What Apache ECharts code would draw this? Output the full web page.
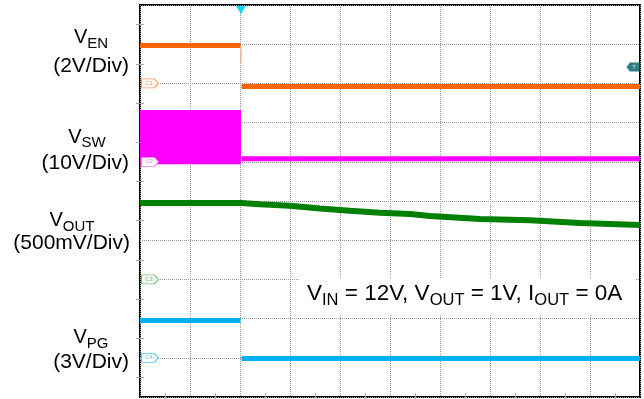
<!DOCTYPE html>
<html>
<head>
<meta charset="utf-8">
<script src="https://cdn.jsdelivr.net/npm/echarts@6/dist/echarts.min.js"></script>
<style>
html,body{margin:0;padding:0;background:#fff;}
#chart{width:644px;height:399px;}
</style>
</head>
<body>
<div id="chart"></div>
<script>
// Oscilloscope: 10 horizontal divisions x 10 vertical divisions (y = 0 bottom, 10 top)
const xDivTicks = [0, 1, 2, 3, 4, 5, 6, 7, 8, 9, 10];
const yDivTicks = [0, 1, 2, 3, 4, 5, 6, 7, 8, 9, 10];

// V_EN (orange)
const venHigh = [[0, 8.97], [2.01, 8.97]];
const venLow = [[2.03, 7.92], [10, 7.92]];
const venEdge = [[2.02, 8.95], [2.02, 8.5]];

// V_SW (magenta): switching band before disable, flat after
const swBandX = [0, 2.02];
const swBandY = [5.94, 7.32];
const swLow = [[2.03, 6.08], [10, 6.08]];

// V_OUT (green): slow discharge
const voutTime = [0, 2.02, 2.4, 3.0, 3.6, 4.2, 4.8, 5.4, 5.8, 6.8, 7.8, 8.8, 10];
const voutLevel = [4.95, 4.95, 4.92, 4.88, 4.81, 4.75, 4.70, 4.67, 4.62, 4.54, 4.51, 4.44, 4.39];

// V_PG (blue)
const vpgHigh = [[0, 1.95], [2.01, 1.95]];
const vpgLow = [[2.03, 0.98], [10, 0.98]];

// Channel ground reference markers
const chanNames = ['C1', 'C2', 'C3', 'C4'];
const chanLevels = [8.0, 6.0, 3.0, 1.0];
const chanColors = ['#ff9a5a', '#ff7aff', '#72b872', '#5fcaf0'];

// Trigger markers
const trigTime = 2.02;
const trigLevel = 8.42;

const font = "'Liberation Sans', Arial, sans-serif";
const breakPt = ['-', '-'];

function seg(a, b) { return a.concat([breakPt], b); }

const voutData = voutTime.map((t, i) => [t, voutLevel[i]]);

const chanPath = 'path://M0,0 L12,0 L16,5 L12,10 L0,10 Z';
function chanMarker(i) {
  return {
    name: chanNames[i],
    coord: [0, chanLevels[i]],
    symbol: chanPath,
    symbolSize: [17, 9],
    symbolKeepAspect: false,
    symbolOffset: [10, 0],
    itemStyle: { color: '#ffffff', borderColor: chanColors[i], borderWidth: 1 },
    label: { show: true, formatter: chanNames[i], color: chanColors[i], fontSize: 6, fontFamily: font, offset: [-1, 0] }
  };
}

const chart = echarts.init(document.getElementById('chart'), null, { renderer: 'canvas' });

const gridLine = { show: true, lineStyle: { color: '#9a9a9a', type: 'dotted', width: 1, opacity: 1 } };
const tickCfg = { show: true, inside: true, length: 0 };
const minorCfg = { show: true, splitNumber: 2, length: 4, lineStyle: { color: '#a8a8a8', width: 1 } };

function xAx(pos) {
  return {
    type: 'value', position: pos, min: xDivTicks[0], max: xDivTicks[xDivTicks.length - 1], interval: 1,
    axisLine: { show: false }, axisLabel: { show: false },
    axisTick: tickCfg, minorTick: minorCfg,
    splitLine: gridLine
  };
}
function yAx(pos) {
  return {
    type: 'value', position: pos, min: yDivTicks[0], max: yDivTicks[yDivTicks.length - 1], interval: 1,
    axisLine: { show: false }, axisLabel: { show: false },
    axisTick: tickCfg, minorTick: minorCfg,
    splitLine: gridLine
  };
}

const option = {
  animation: false,
  backgroundColor: '#ffffff',
  grid: { left: 140, right: 4, top: 5, bottom: 2, show: true, borderColor: '#000000', borderWidth: 2 },
  xAxis: [xAx('bottom'), xAx('top')],
  yAxis: [yAx('left'), yAx('right')],
  series: [
    {
      name: 'VSW', type: 'line', data: swLow, showSymbol: false, symbol: 'none', z: 3,
      lineStyle: { color: '#ff00ff', width: 5 },
      markArea: {
        silent: true,
        itemStyle: { color: '#ff00ff', opacity: 1 },
        data: [[{ coord: [swBandX[0], swBandY[0]] }, { coord: [swBandX[1], swBandY[1]] }]]
      },
      markPoint: { silent: true, data: [chanMarker(1)] }
    },
    {
      name: 'VEN', type: 'line', data: seg(venHigh, venLow), showSymbol: false, symbol: 'none', connectNulls: false, z: 4,
      lineStyle: { color: '#ff6600', width: 5 },
      markPoint: {
        silent: true,
        data: [
          chanMarker(0),
          {
            name: 'T', coord: [10, trigLevel],
            symbol: 'path://M4,0 L16,0 L16,10 L4,10 L0,5 Z', symbolSize: [13, 9], symbolKeepAspect: false,
            symbolOffset: [-7, 0],
            itemStyle: { color: '#2f7f80' },
            label: { show: true, formatter: 'T', color: '#d0f0f0', fontSize: 6, fontFamily: font, offset: [1, 0] }
          },
          {
            name: 'trig', coord: [trigTime, 10],
            symbol: 'triangle', symbolRotate: 180, symbolSize: [10, 8], symbolOffset: [0, 5],
            itemStyle: { color: '#10d8f0' },
            label: { show: false }
          }
        ]
      }
    },
    {
      name: 'VENedge', type: 'line', data: venEdge, showSymbol: false, symbol: 'none', z: 4,
      lineStyle: { color: '#ffb07a', width: 1.2 }
    },
    {
      name: 'VOUT', type: 'line', data: voutData, showSymbol: false, symbol: 'none', z: 4,
      lineStyle: { color: '#008000', width: 6 },
      markPoint: { silent: true, data: [chanMarker(2)] }
    },
    {
      name: 'VPG', type: 'line', data: seg(vpgHigh, vpgLow), showSymbol: false, symbol: 'none', connectNulls: false, z: 4,
      lineStyle: { color: '#00b0f0', width: 5 },
      markPoint: { silent: true, data: [chanMarker(3)] }
    }
  ],
  graphic: [
    // Channel labels
    { type: 'text', x: 91, y: 37.5, z: 10, style: { text: '{v|V}{s|EN}', textAlign: 'center', textVerticalAlign: 'middle', rich: { v: { fontSize: 20, fontFamily: font, fill: '#000', lineHeight: 22 }, s: { fontSize: 15, fontFamily: font, fill: '#000', lineHeight: 22, padding: [12, 0, 0, 0] } } } },
    { type: 'text', x: 129, y: 66, z: 10, style: { text: '(2V/Div)', textAlign: 'right', textVerticalAlign: 'middle', fontSize: 21, fontFamily: font, fill: '#000' } },

    { type: 'text', x: 87, y: 137, z: 10, style: { text: '{v|V}{s|SW}', textAlign: 'center', textVerticalAlign: 'middle', rich: { v: { fontSize: 20, fontFamily: font, fill: '#000', lineHeight: 22 }, s: { fontSize: 15, fontFamily: font, fill: '#000', lineHeight: 22, padding: [12, 0, 0, 0] } } } },
    { type: 'text', x: 129, y: 163, z: 10, style: { text: '(10V/Div)', textAlign: 'right', textVerticalAlign: 'middle', fontSize: 21, fontFamily: font, fill: '#000' } },

    { type: 'text', x: 72, y: 220.5, z: 10, style: { text: '{v|V}{s|OUT}', textAlign: 'center', textVerticalAlign: 'middle', rich: { v: { fontSize: 20, fontFamily: font, fill: '#000', lineHeight: 22 }, s: { fontSize: 15, fontFamily: font, fill: '#000', lineHeight: 22, padding: [12, 0, 0, 0] } } } },
    { type: 'text', x: 130, y: 243, z: 10, style: { text: '(500mV/Div)', textAlign: 'right', textVerticalAlign: 'middle', fontSize: 21, fontFamily: font, fill: '#000' } },

    { type: 'text', x: 91, y: 337.5, z: 10, style: { text: '{v|V}{s|PG}', textAlign: 'center', textVerticalAlign: 'middle', rich: { v: { fontSize: 20, fontFamily: font, fill: '#000', lineHeight: 22 }, s: { fontSize: 15, fontFamily: font, fill: '#000', lineHeight: 22, padding: [12, 0, 0, 0] } } } },
    { type: 'text', x: 129, y: 362, z: 10, style: { text: '(3V/Div)', textAlign: 'right', textVerticalAlign: 'middle', fontSize: 21, fontFamily: font, fill: '#000' } },

    // Conditions annotation with white backing
    { type: 'rect', shape: { x: 300, y: 279, width: 336, height: 36 }, style: { fill: '#ffffff' }, z: 8, silent: true },
    { type: 'text', x: 307, y: 294, z: 10, style: { text: '{v|V}{s|IN}{v| = 12V, V}{s|OUT}{v| = 1V, I}{s|OUT}{v| = 0A}', textAlign: 'left', textVerticalAlign: 'middle', rich: { v: { fontSize: 22.5, fontFamily: font, fill: '#000', lineHeight: 24 }, s: { fontSize: 16.5, fontFamily: font, fill: '#000', lineHeight: 24, padding: [12, 0, 0, 0] } } } }
  ]
};

chart.setOption(option);
</script>
</body>
</html>
